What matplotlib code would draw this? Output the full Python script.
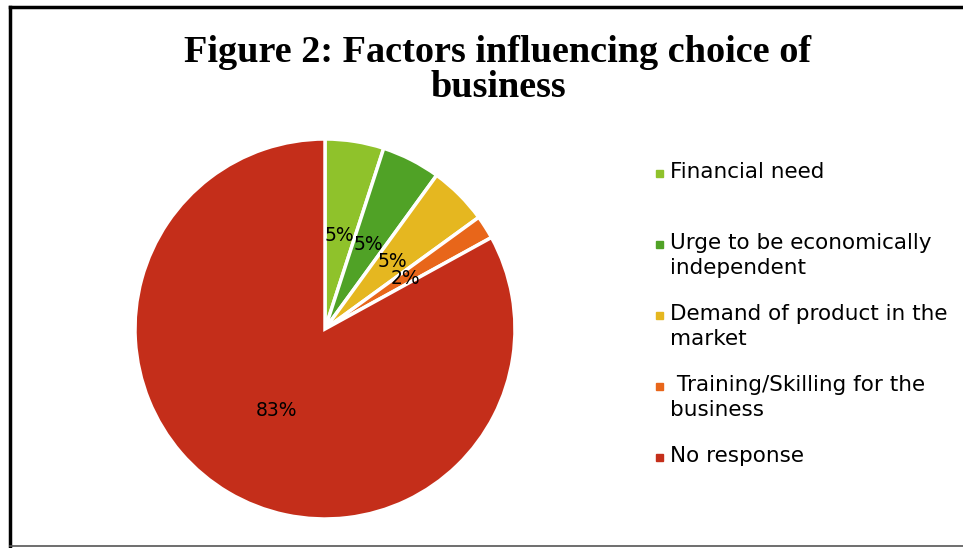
import matplotlib.pyplot as plt
from matplotlib.patches import Rectangle
from matplotlib.lines import Line2D

# -----------------------------
# DATA
# -----------------------------

factors = [
    "Financial need",
    "Urge to be economically\nindependent",
    "Demand of product in the\nmarket",
    " Training/Skilling for the\nbusiness",
    "No response",
]
shares = [5, 5, 5, 2, 83]
colors = ["#8fc22b", "#50a226", "#e5b720", "#e8661a", "#c42e1a"]

TITLE = "Figure 2: Factors influencing choice of\nbusiness"

W, H = 963, 548

# -----------------------------
# FIGURE
# -----------------------------

fig = plt.figure(figsize=(W / 100, H / 100), dpi=100)
fig.patch.set_facecolor("white")

# frame around the chart
fig.add_artist(Line2D([10 / W, 10 / W], [0, 1 - 7 / H], color="black", lw=2.5))
fig.add_artist(Line2D([10 / W, 1], [1 - 7 / H, 1 - 7 / H], color="black", lw=2.5))
fig.add_artist(Line2D([10 / W, 1], [2 / H, 2 / H], color="#555555", lw=1.2))

fig.text(498 / W, 1 - 70 / H, TITLE, ha="center", va="center",
         fontsize=27.5, fontweight="bold", family="Liberation Serif",
         linespacing=1.0)

# pie: centre (325, 329) px, radius 190 px
cx, cy, r = 325, 329, 190
ax = fig.add_axes([(cx - r) / W, (H - cy - r) / H, 2 * r / W, 2 * r / H])
wedges, texts, autotexts = ax.pie(
    shares, colors=colors, startangle=90, counterclock=False,
    autopct=lambda p: f"{p:.0f}%", pctdistance=0.5,
    wedgeprops=dict(edgecolor="white", linewidth=2.5),
    textprops=dict(fontsize=13.5, color="black"),
)
ax.set_xlim(-1, 1)
ax.set_ylim(-1, 1)
ax.set_aspect("equal")
ax.axis("off")

# legend drawn entry by entry
y0, step = 173, 71
for i, (label, w) in enumerate(zip(factors, wedges)):
    y = y0 + i * step
    fig.add_artist(Rectangle((656 / W, 1 - (y + 4) / H), 7 / W, 7 / H,
                             color=w.get_facecolor(), transform=fig.transFigure))
    fig.text(670 / W, 1 - (y - 11) / H, label, ha="left", va="top",
             fontsize=15.5, color="black", linespacing=1.3)

fig.savefig("out.png", dpi=100)
